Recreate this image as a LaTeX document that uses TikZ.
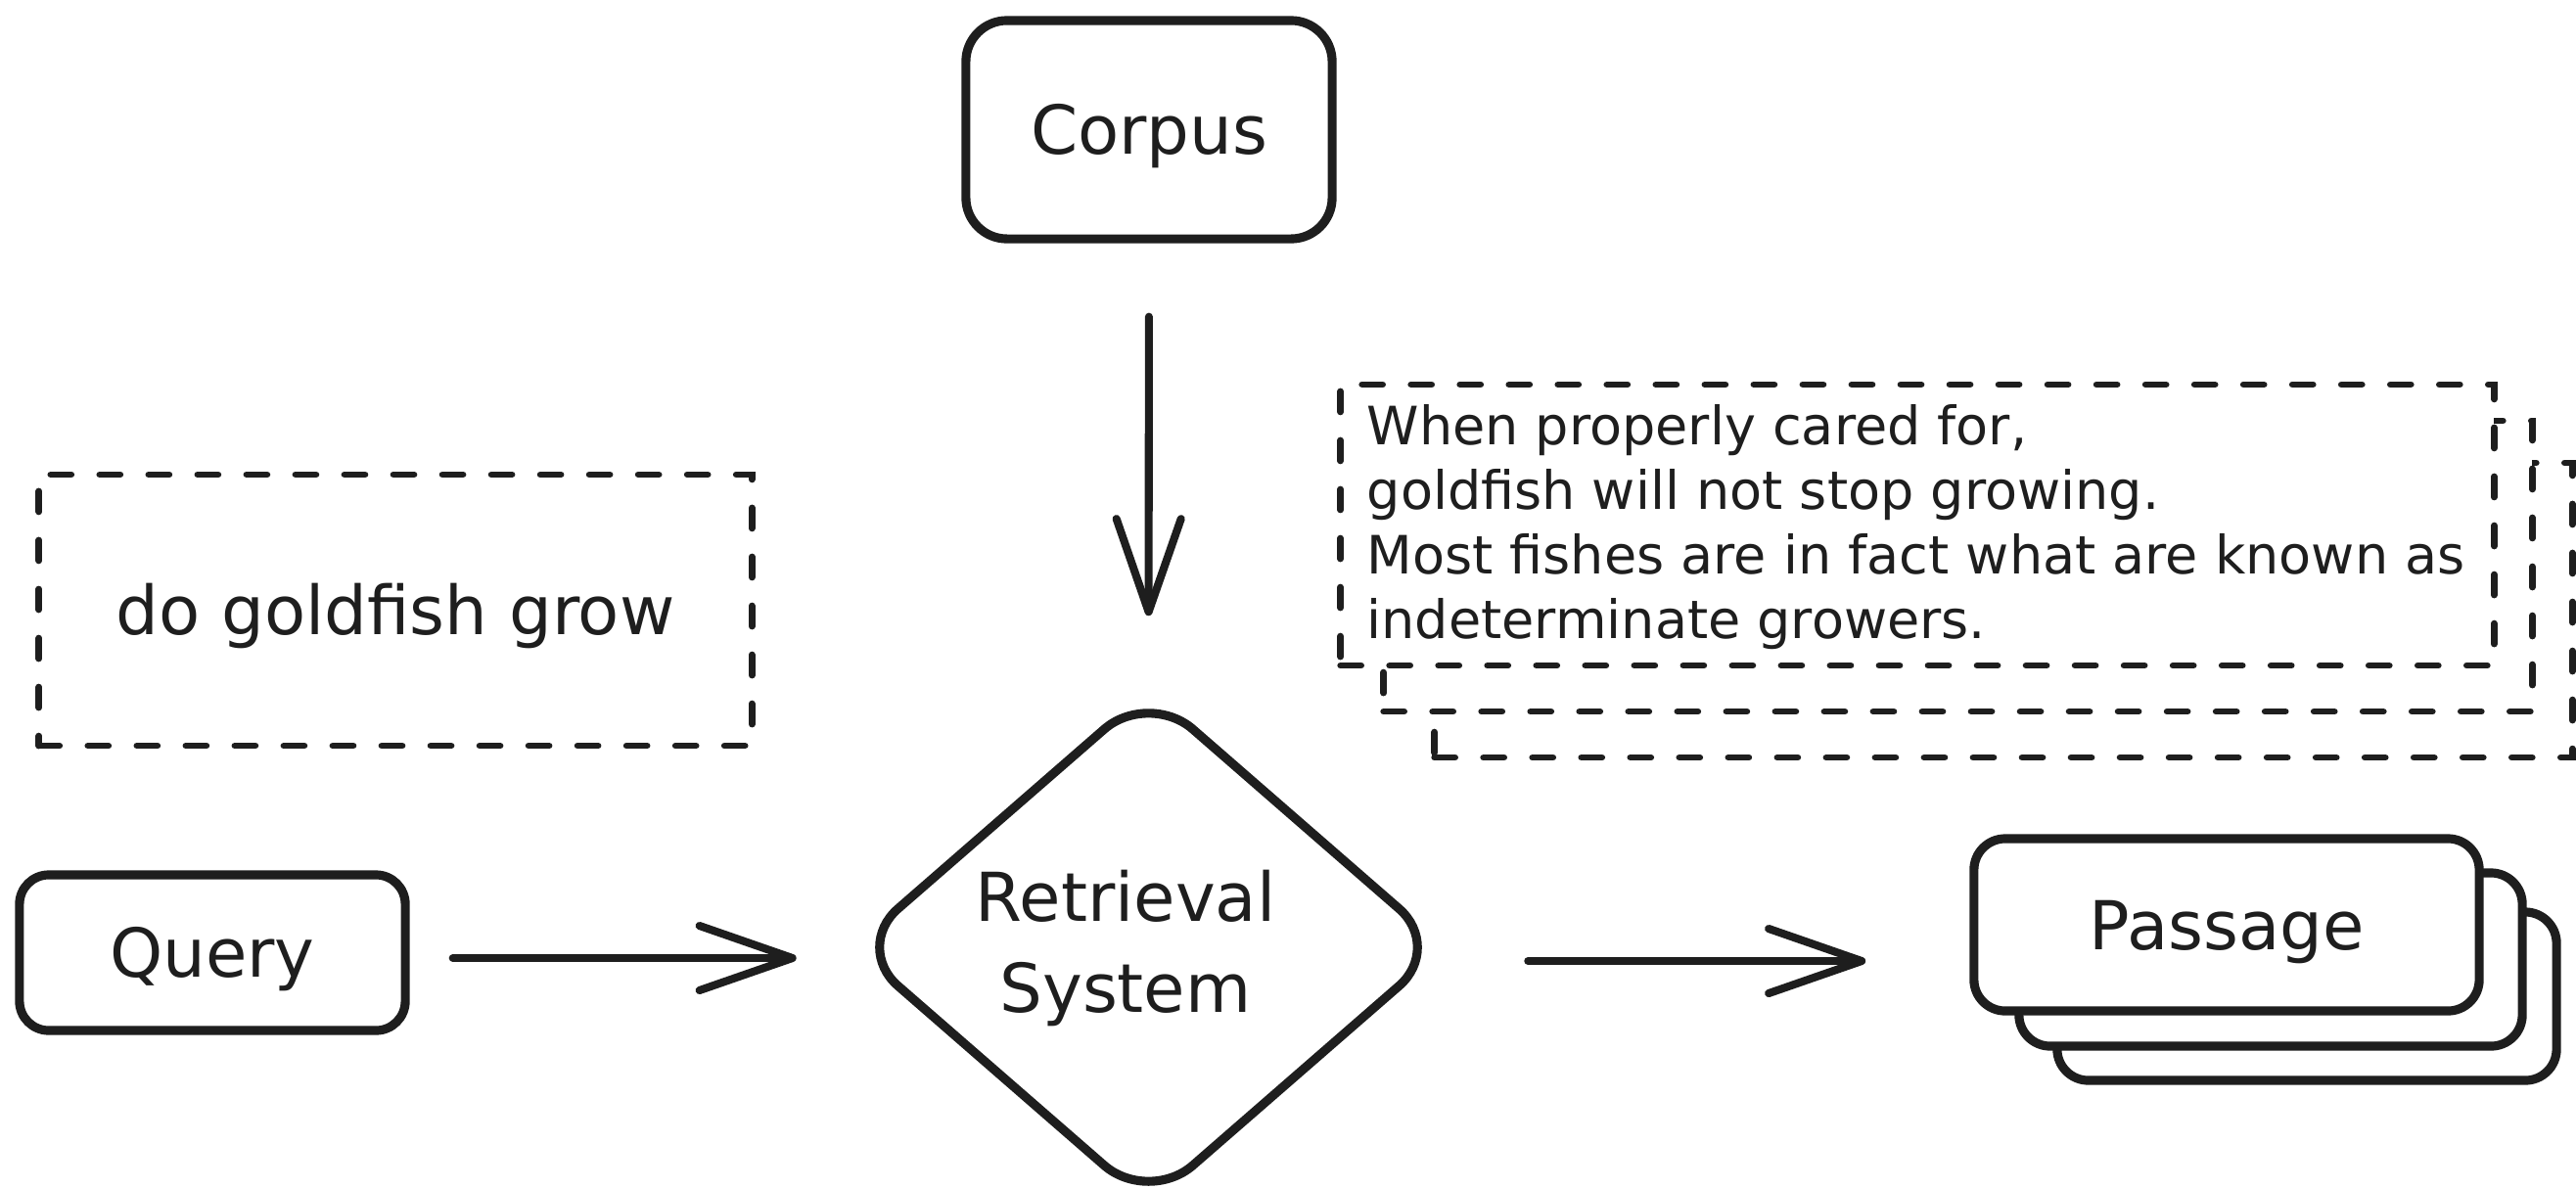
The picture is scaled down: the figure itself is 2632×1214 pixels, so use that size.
\documentclass[tikz,border=0pt]{standalone}
\usepackage{fontspec}
\setmainfont{DejaVu Sans}
\usetikzlibrary{shapes.geometric,arrows.meta}
\definecolor{ink}{HTML}{1E1E1E}
\begin{document}
\begin{tikzpicture}[x=0.01cm,y=-0.01cm,
  solidbox/.style={draw=ink, line width=2.6pt, rounded corners=0.32cm, fill=white, inner sep=0pt, text=ink},
  dashbox/.style={draw=ink, line width=1.9pt, dash pattern=on 0.21cm off 0.29cm, line cap=round, fill=white, inner sep=0pt, text=ink},
  lbl/.style={font=\fontsize{19.6}{24.5}\selectfont, text height=14.3pt, text depth=0pt},
  arr/.style={draw=ink, line width=2.3pt, line cap=round, -{Straight Barb[length=0.95cm,width=0.66cm,line cap=round,line join=round]}}
]
\useasboundingbox (0,0) rectangle (2632,1214);

% Corpus
\node[solidbox, rounded corners=0.42cm, minimum width=3.74cm, minimum height=2.23cm, lbl] (corpus) at (1174,132.5) {Corpus};

% Query
\node[solidbox, rounded corners=0.3cm, minimum width=3.94cm, minimum height=1.59cm, lbl] (query) at (217,973.5) {Query};

% query text box
\node[dashbox, minimum width=7.28cm, minimum height=2.77cm, lbl] (qtext) at (404,623.5) {do goldfish grow};

% Retrieval system diamond
\node[diamond, draw=ink, line width=2.6pt, rounded corners=0.6cm, minimum width=6.06cm, minimum height=5.28cm, inner sep=0pt] (rs) at (1173.5,968) {};
\node[text=ink, align=center, font=\fontsize{19.6}{26.5}\selectfont] (rslabel) at (1150,969) {Retrieval\\System};

% passage stack
\node[solidbox, minimum width=5.10cm, minimum height=1.72cm] (p3) at (2357,1018) {};
\node[solidbox, minimum width=5.14cm, minimum height=1.77cm] (p2) at (2320,980.5) {};
\node[solidbox, minimum width=5.16cm, minimum height=1.76cm, lbl] (p1) at (2275,945) {Passage};

% passage text stack
\node[dashbox, minimum width=11.62cm, minimum height=3.01cm] (t3) at (2047,623.5) {};
\node[dashbox, minimum width=11.73cm, minimum height=2.97cm] (t2) at (2000.5,578.5) {};
\node[dashbox, minimum width=11.78cm, minimum height=2.87cm] (t1) at (1959,536.5) {};
\node[anchor=north west, inner sep=0pt, text=ink, align=left, font=\fontsize{15.36}{18.78}\selectfont] (ptext) at (1396,413)
  {When properly cared for,\\goldfish will not stop growing.\\Most fishes are in fact what are known as\\indeterminate growers.};

% connectors
\draw[arr, shorten <=0.44cm, shorten >=0.52cm] ([yshift=-0.055cm]query.east) -- ([yshift=-0.055cm]query.east -| rs.west);
\draw[arr, shorten <=0.75cm, shorten >=0.70cm] (corpus.south) -- (rs.north);
\draw[arr, shorten <=0.80cm, shorten >=1.06cm] ([yshift=-0.14cm]rs.east) -- ([yshift=-0.14cm]rs.east -| p1.west);
\end{tikzpicture}
\end{document}
